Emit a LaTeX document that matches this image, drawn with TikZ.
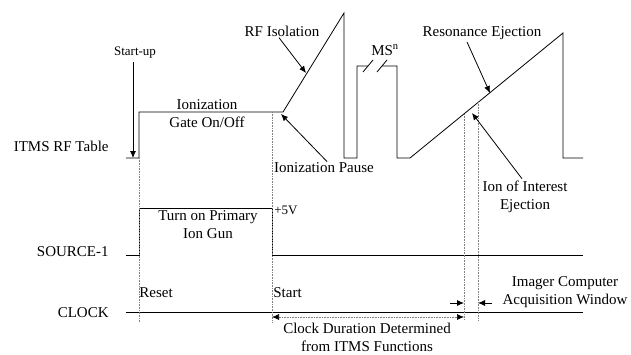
\documentclass[tikz,border=0pt]{standalone}
\usepackage{fontspec}
\setmainfont{Liberation Serif}
\usetikzlibrary{arrows.meta}
\tikzset{lbl/.style={font=\fontsize{15}{18}\selectfont,inner sep=0pt,align=center},
  small/.style={font=\fontsize{13}{15}\selectfont,inner sep=0pt},
  guide/.style={densely dotted,gray,line width=0.6pt},
  tip/.style={-{Latex[length=7pt,width=6pt,color=black]}},
  tips/.style={{Latex[length=7pt,width=6pt,color=black]}-{Latex[length=7pt,width=6pt,color=black]}}}

\begin{document}
\begin{tikzpicture}[x=1pt,y=-1pt,line width=0.8pt]
\useasboundingbox (0,0) rectangle (631,354);
% row labels
\node[lbl,anchor=east] (rftab) at (109,146) {ITMS RF Table};
\node[lbl,anchor=east] (srclbl) at (109,252) {SOURCE-1};
\node[lbl,anchor=east] (clklbl) at (109,313) {CLOCK};
% ITMS RF table trace
\draw (126,158)--(139,158)--(139,112)--(283,112)--(344,13)--(344,158)--(357,158)--(357,66)--(368,66);
\draw (382,66)--(397,66)--(397,158)--(410,158)--(563,33)--(563,158)--(583,158);
\draw (363,72)--(373,60) (377,72)--(387,60);
% SOURCE-1 and CLOCK traces
\draw (126,255)--(139,255)--(139,208)--(272,208)--(272,255)--(583,255);
\draw (126,312)--(583,312);
% dotted guides
\draw[guide] (139,158)--(139,322);
\draw[guide] (272,112)--(272,322);
\draw[guide] (464,114)--(464,320);
\draw[guide] (478,102)--(478,320);
% points on the traces
\coordinate (su) at (133,158);
\coordinate (iso) at (306,73);
\coordinate (ps) at (281,114);
\coordinate (res) at (490,93);
\coordinate (ion) at (472,113);
% labels and pointers
\node[small,inner sep=3pt] (startup) at (135,53) {Start-up};
\draw[tip] (startup.south -| su)--(su);
\node[lbl] (rfiso) at (282,31) {RF Isolation};
\draw[tip] ([xshift=-3pt,yshift=-1pt]rfiso.south)--(iso);
\node[lbl] (pause) at (324,168) {Ionization Pause};
\draw[tip] ([xshift=3pt,yshift=1pt]pause.north)--(ps);
\node[lbl] (gate) at (207,114) {Ionization\\Gate On/Off};
\node[lbl] (msn) at (385,50) {MS\textsuperscript{n}};
\node[lbl] (resej) at (482,33) {Resonance Ejection};
\draw[tip] ([xshift=-15pt,yshift=-2pt]resej.south)--(res);
\node[lbl] (ioi) at (525,197) {Ion of Interest\\Ejection};
\draw[tip] ([xshift=-3pt,yshift=2pt]ioi.north)--(ion);
\node[lbl] (gun) at (208,225) {Turn on Primary\\Ion Gun};
\node[small,anchor=west] (fivev) at (274,210) {+5V};
\node[lbl,anchor=west] (reset) at (139,293) {Reset};
\node[lbl,anchor=west] (start) at (273,293) {Start};
% clock duration and acquisition window
\coordinate (cd1) at (272,317);
\coordinate (cd2) at (464,317);
\draw[guide,tips] (cd1)--(cd2);
\node[lbl] (clkdur) at (367,337) {Clock Duration Determined\\from ITMS Functions};
\coordinate (aw1) at (464,303);
\coordinate (aw2) at (478,303);
\draw[tip] (aw1)++(-14,0)--(aw1);
\draw[tip] (aw2)++(14,0)--(aw2);
\node[lbl] (acqwin) at (565,292) {Imager Computer\\Acquisition Window};
\end{tikzpicture}
\end{document}
